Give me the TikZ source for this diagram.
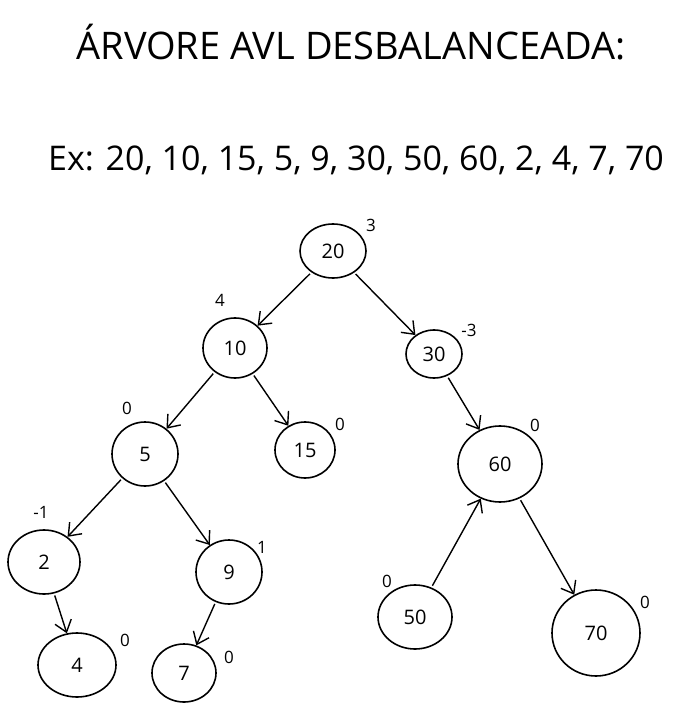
\documentclass[tikz,border=0pt]{standalone}
\usepackage{fontspec}
\setmainfont{Open Sans}
\usetikzlibrary{shapes.geometric,arrows.meta}

\begin{document}
\begin{tikzpicture}[x=1pt, y=-1pt, >={Straight Barb[length=11pt,width=17pt]}]
\tikzstyle{knot} = [draw, ellipse, line width=1.6pt, inner sep=0pt, font=\fontsize{20}{22}\selectfont]
\tikzstyle{bal} = [inner sep=0pt, font=\fontsize{17}{19}\selectfont]
\tikzstyle{edge} = [->, line width=1.4pt, shorten <=2pt]

\useasboundingbox (0,0) rectangle (672,711);

    \node[font=\fontsize{38}{40}\selectfont] (title) at (351,42) {ÁRVORE AVL DESBALANCEADA:};
    \node[font=\fontsize{34}{36}\selectfont] (seq) at (356,160) {Ex: 20, 10, 15, 5, 9, 30, 50, 60, 2, 4, 7, 70};

    % the tree
    \node[knot, minimum width=66, minimum height=54] (n20) at (333,251) {20};
    \node[knot, minimum width=64, minimum height=60] (n10) at (235,348) {10};
    \node[knot, minimum width=56, minimum height=48] (n30) at (434,354) {30};
    \node[knot, minimum width=66, minimum height=64] (n5) at (145,454) {5};
    \node[knot, minimum width=60, minimum height=56] (n15) at (305,450) {15};
    \node[knot, minimum width=84, minimum height=76] (n60) at (500,464) {60};
    \node[knot, minimum width=72, minimum height=64] (n2) at (44,562) {2};
    \node[knot, minimum width=66, minimum height=64] (n9) at (229,572) {9};
    \node[knot, minimum width=78, minimum height=64] (n4) at (77,665) {4};
    \node[knot, minimum width=64, minimum height=58] (n7) at (184,673) {7};
    \node[knot, minimum width=74, minimum height=64] (n50) at (415,617) {50};
    \node[knot, minimum width=88, minimum height=86] (n70) at (596,633) {70};

    % balance factors
    \node[bal] (b20) at (371,225) {3};
    \node[bal] (b10) at (220,300) {4};
    \node[bal] (b30) at (469,330) {-3};
    \node[bal] (b5) at (127,408) {0};
    \node[bal] (b15) at (340,424) {0};
    \node[bal] (b60) at (535,425) {0};
    \node[bal] (b2) at (41,512) {-1};
    \node[bal] (b9) at (262,547) {1};
    \node[bal] (b4) at (125,640) {0};
    \node[bal] (b7) at (229,657) {0};
    \node[bal] (b50) at (387,581) {0};
    \node[bal] (b70) at (645,602) {0};

    \draw[edge] (n20) -- (n10);
    \draw[edge] (n20) -- (n30);
    \draw[edge] (n10) -- (n5);
    \draw[edge] (n10) -- (n15);
    \draw[edge] (n30) -- (n60);
    \draw[edge] (n5) -- (n2);
    \draw[edge] (n5) -- (n9);
    \draw[edge] (n2) -- (n4);
    \draw[edge] (n9) -- (n7);
    \draw[edge] (n50) -- (n60);
    \draw[edge] (n60) -- (n70);

\end{tikzpicture}
\end{document}
